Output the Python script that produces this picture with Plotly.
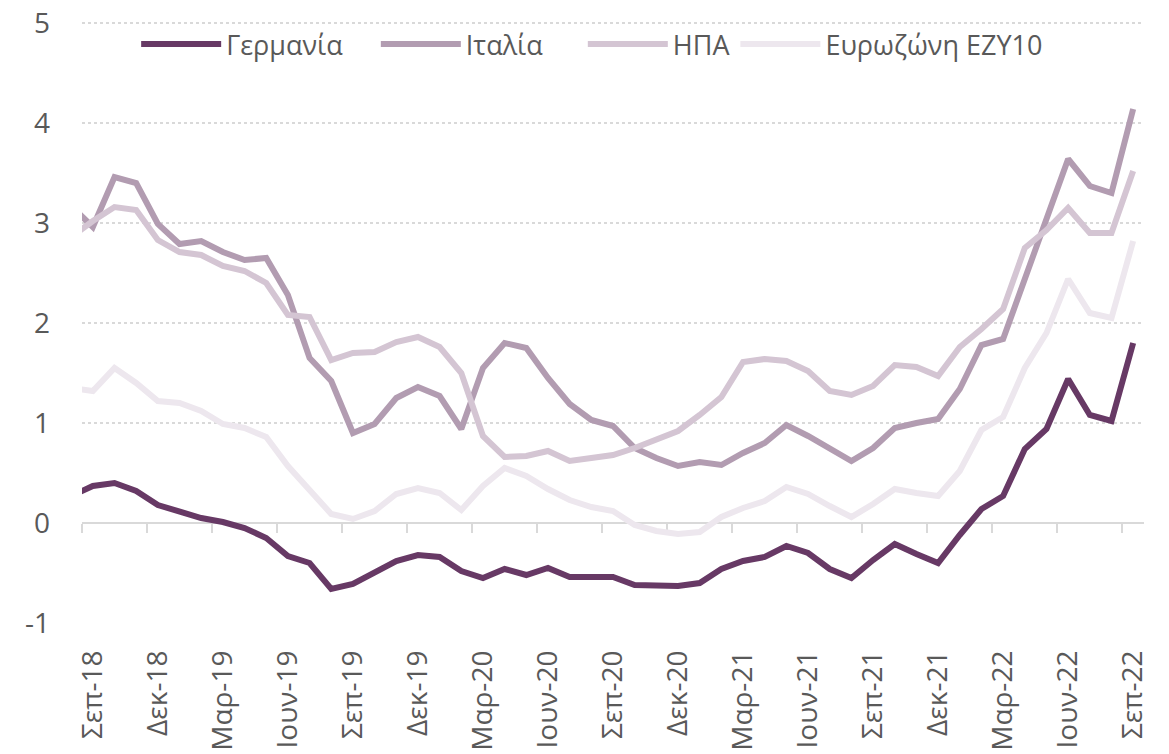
import plotly.graph_objects as go

# Monthly labels from Aug-18 (first point, clipped at the left edge) to Sep-22
months = ["Αυγ-18", "Σεπ-18", "Οκτ-18", "Νοε-18", "Δεκ-18",
          "Ιαν-19", "Φεβ-19", "Μαρ-19", "Απρ-19", "Μαϊ-19", "Ιουν-19", "Ιουλ-19", "Αυγ-19", "Σεπ-19", "Οκτ-19", "Νοε-19", "Δεκ-19",
          "Ιαν-20", "Φεβ-20", "Μαρ-20", "Απρ-20", "Μαϊ-20", "Ιουν-20", "Ιουλ-20", "Αυγ-20", "Σεπ-20", "Οκτ-20", "Νοε-20", "Δεκ-20",
          "Ιαν-21", "Φεβ-21", "Μαρ-21", "Απρ-21", "Μαϊ-21", "Ιουν-21", "Ιουλ-21", "Αυγ-21", "Σεπ-21", "Οκτ-21", "Νοε-21", "Δεκ-21",
          "Ιαν-22", "Φεβ-22", "Μαρ-22", "Απρ-22", "Μαϊ-22", "Ιουν-22", "Ιουλ-22", "Αυγ-22", "Σεπ-22"]

germany = [0.27, 0.37, 0.40, 0.32, 0.18,
           0.12, 0.05, 0.01, -0.05, -0.15, -0.33, -0.40, -0.66, -0.61, -0.50, -0.38, -0.32,
           -0.34, -0.48, -0.55, -0.46, -0.52, -0.45, -0.54, -0.54, -0.54, -0.62, -0.63, -0.63,
           -0.60, -0.46, -0.38, -0.34, -0.23, -0.30, -0.46, -0.55, -0.37, -0.21, -0.31, -0.40,
           -0.12, 0.14, 0.27, 0.74, 0.94, 1.44, 1.08, 1.02, 1.80]

italy = [3.17, 2.96, 3.46, 3.40, 2.99,
         2.79, 2.82, 2.71, 2.63, 2.65, 2.28, 1.65, 1.42, 0.90, 0.99, 1.25, 1.36,
         1.27, 0.94, 1.55, 1.80, 1.75, 1.45, 1.19, 1.03, 0.97, 0.75, 0.65, 0.57,
         0.61, 0.58, 0.70, 0.80, 0.98, 0.87, 0.74, 0.62, 0.75, 0.95, 1.00, 1.04,
         1.34, 1.78, 1.84, 2.43, 3.03, 3.64, 3.37, 3.30, 4.14]

usa = [2.86, 3.02, 3.16, 3.13, 2.83,
       2.71, 2.68, 2.57, 2.52, 2.40, 2.08, 2.06, 1.63, 1.70, 1.71, 1.81, 1.86,
       1.76, 1.50, 0.87, 0.66, 0.67, 0.72, 0.62, 0.65, 0.68, 0.75, 0.84, 0.92,
       1.08, 1.26, 1.61, 1.64, 1.62, 1.52, 1.32, 1.28, 1.37, 1.58, 1.56, 1.47,
       1.76, 1.94, 2.14, 2.75, 2.93, 3.15, 2.90, 2.90, 3.52]

eurozone = [1.35, 1.32, 1.55, 1.40, 1.22,
            1.20, 1.12, 0.99, 0.95, 0.86, 0.57, 0.34, 0.09, 0.04, 0.12, 0.29, 0.35,
            0.30, 0.13, 0.37, 0.55, 0.47, 0.34, 0.23, 0.16, 0.12, -0.02, -0.08, -0.11,
            -0.09, 0.06, 0.15, 0.22, 0.36, 0.29, 0.17, 0.06, 0.19, 0.34, 0.30, 0.27,
            0.52, 0.93, 1.06, 1.55, 1.90, 2.44, 2.10, 2.05, 2.82]

series_names = ["Γερμανία", "Ιταλία", "ΗΠΑ", "Ευρωζώνη EZY10"]
series_colors = ["#673965", "#B29CB1", "#D4C5D3", "#EDE7EE"]
# legend spacing (trailing no-break spaces) to mimic the original legend layout
legend_pad = [4, 5, 0, 0]

tick_labels = ["Σεπ-18", "Δεκ-18", "Μαρ-19", "Ιουν-19", "Σεπ-19", "Δεκ-19", "Μαρ-20", "Ιουν-20",
               "Σεπ-20", "Δεκ-20", "Μαρ-21", "Ιουν-21", "Σεπ-21", "Δεκ-21", "Μαρ-22", "Ιουν-22", "Σεπ-22"]
y_ticks = [-1, 0, 1, 2, 3, 4, 5]
y_ticktext = ["-1", "0", "1", "2", "3", "4", "5"]

# month slots: Sep-18 occupies [0,1], points sit in the middle of each month slot
x_pos = [i - 1 + 0.5 for i in range(len(months))]
label_pos = [x_pos[months.index(lbl)] for lbl in tick_labels]
boundary_pos = [p - 0.5 for p in label_pos]

Y_MIN, Y_MAX = -1, 5.02   # tiny headroom so the top gridline at 5 is drawn

FONT = "Open Sans"
GRAY = "#595959"
GRID = "#D9D9D9"

fig = go.Figure()
for k, (name, vals, col) in enumerate(zip(series_names, [germany, italy, usa, eurozone], series_colors)):
    fig.add_trace(go.Scatter(x=x_pos, y=vals, name=name + "\u00a0" * legend_pad[k], mode="lines",
                             xaxis="x" if k == 0 else "x2",
                             line=dict(color=col, width=6), customdata=months,
                             hovertemplate="%{customdata}: %{y}<extra>" + name + "</extra>"))

fig.update_layout(
    width=1169, height=754,
    margin=dict(l=82, r=25, t=21, b=131, autoexpand=False),
    paper_bgcolor="white", plot_bgcolor="white",
    font=dict(family=FONT, size=27, color=GRAY),
    showlegend=True,
    legend=dict(orientation="h", x=0.051, xanchor="left", y=0.961, yanchor="middle",
                font=dict(family=FONT, size=27, color=GRAY), itemwidth=80,
                bgcolor="rgba(0,0,0,0)", traceorder="normal"),
    xaxis=dict(range=[0, 49], tickmode="array", tickvals=label_pos, ticktext=tick_labels,
               tickangle=-90, showgrid=False, zeroline=False, showline=False,
               ticks="", ticklabelstandoff=21, automargin=False, ticklabeloverflow="allow",
               tickfont=dict(family=FONT, size=28, color=GRAY)),
    xaxis2=dict(range=[0, 49], overlaying="x", anchor="free",
                position=(0 - Y_MIN) / (Y_MAX - Y_MIN), side="bottom",
                tickmode="array", tickvals=boundary_pos, showticklabels=False,
                ticks="outside", ticklen=9, tickwidth=2, tickcolor=GRID,
                showline=True, linecolor=GRID, linewidth=2, layer="below traces",
                showgrid=False, zeroline=False, automargin=False),
    yaxis=dict(range=[Y_MIN, Y_MAX], tickmode="array", tickvals=y_ticks, ticktext=y_ticktext,
               showgrid=True, gridcolor=GRID, gridwidth=2, griddash="dot",
               zeroline=False, showline=False, ticks="", ticklabelstandoff=31, automargin=False,
               ticklabeloverflow="allow",
               tickfont=dict(family=FONT, size=28, color=GRAY)),
)

# remove the default page margin so the figure fills the window exactly
fig.write_html("out.html",
               config={"displayModeBar": False},
               post_script="document.body.style.margin='0';document.body.style.padding='0';"
                           "document.body.style.overflow='hidden';")
